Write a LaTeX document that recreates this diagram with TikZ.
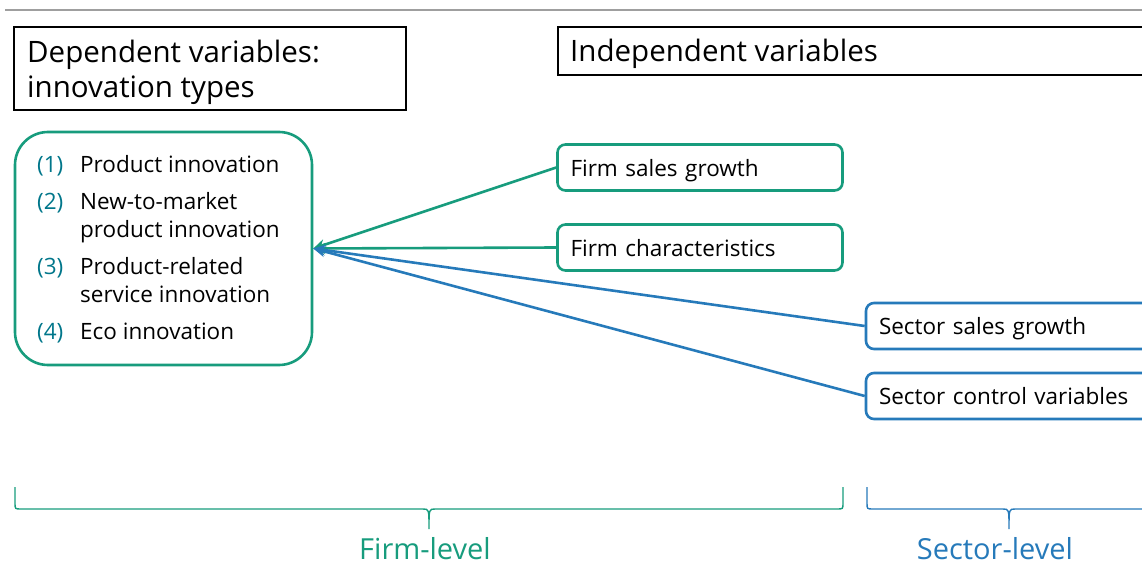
\documentclass[tikz,border=0pt]{standalone}
\usepackage{fontspec}
\setmainfont{Open Sans}
\usetikzlibrary{arrows.meta}
\definecolor{firmgreen}{RGB}{23,156,125}
\definecolor{sectblue}{RGB}{38,122,186}
\definecolor{numteal}{RGB}{0,118,138}
\newcommand{\boxfont}{\fontsize{22.5}{26}\selectfont}
\newcommand{\headfont}{\fontsize{29.5}{34}\selectfont}
\newcommand{\levelfont}{\fontsize{29}{33}\selectfont}
\begin{document}
\begin{tikzpicture}[x=1pt,y=-1pt,
		smallbox/.style={line width=2.6pt, rounded corners=8pt, minimum height=46pt, inner xsep=13pt, text height=17pt, text depth=0pt, align=left, font=\boxfont},
		firmbox/.style={smallbox, draw=firmgreen, text width=259pt},
		sectbox/.style={smallbox, draw=sectblue, text width=270pt},
		headbox/.style={draw=black, line width=1.3pt, inner sep=0pt},
		txt/.style={anchor=base west, inner sep=0pt, font=\boxfont},
		num/.style={txt, text=numteal},
		link/.style={line width=2.6pt, -{Stealth[length=12pt,width=11pt]}}]
	\useasboundingbox (0,0) rectangle (1142,564);
	\clip (0,0) rectangle (1142,564);
	% rule at the top
	\draw[gray!75, line width=2pt] (5,10) -- (1150,10);
	% headings
	\node[headbox, minimum width=392pt, minimum height=83pt] (dephead) at (210,68.5) {};
	\node[anchor=base west, inner sep=0pt, font=\headfont] (dephead1) at (27,63) {Dependent variables:};
	\node[anchor=base west, inner sep=0pt, font=\headfont] (dephead2) at (27,98) {innovation types};
	\node[headbox, minimum width=620pt, minimum height=48pt] (indhead) at (868,51) {};
	\node[anchor=base west, inner sep=0pt, font=\headfont] (indhead1) at (570,62) {Independent variables};
	% innovation types
	\node[draw=firmgreen, line width=2.6pt, rounded corners=33pt, minimum width=297pt, minimum height=233pt] (dep) at (163.5,248.5) {};
	\node[num] (n1) at (37,172) {(1)};
	\node[txt] (t1) at (80,172) {Product innovation};
	\node[num] (n2) at (37,209) {(2)};
	\node[txt] (t2) at (80,209) {New-to-market};
	\node[txt] (t2b) at (80,237) {product innovation};
	\node[num] (n3) at (37,274) {(3)};
	\node[txt] (t3) at (80,274) {Product-related};
	\node[txt] (t3b) at (80,302) {service innovation};
	\node[num] (n4) at (37,339) {(4)};
	\node[txt] (t4) at (80,339) {Eco innovation};
	% independent variables
	\node[firmbox] (firmsales) at (700,167.5) {Firm sales growth};
	\node[firmbox] (firmchar) at (700,247.5) {Firm characteristics};
	\node[sectbox] (sectsales) at (1014,326) {Sector sales growth};
	\node[sectbox] (sectctrl) at (1014,396) {Sector control variables};
	\draw[link, firmgreen] (firmsales.west) -- (dep.east);
	\draw[link, firmgreen] (firmchar.west) -- (dep.east);
	\draw[link, sectblue] (sectsales.west) -- (dep.east);
	\draw[link, sectblue] (sectctrl.west) -- (dep.east);
	% braces
	\draw[firmgreen, line width=1.4pt] (15,487) -- (15,503) .. controls (15,509) .. (21,509) -- (423,509) .. controls (429,509) .. (429,529) .. controls (429,509) .. (435,509) -- (837,509) .. controls (843,509) .. (843,503) -- (843,487);
	\draw[sectblue, line width=1.4pt] (867,487) -- (867,503) .. controls (867,509) .. (873,509) -- (1003,509) .. controls (1009,509) .. (1009,529) .. controls (1009,509) .. (1015,509) -- (1145,509) .. controls (1151,509) .. (1151,503) -- (1151,487);
	\node[font=\levelfont, text=firmgreen, anchor=base, inner sep=0pt] (firmlevel) at (425,559) {Firm-level};
	\node[font=\levelfont, text=sectblue, anchor=base, inner sep=0pt] (sectlevel) at (995,559) {Sector-level};
\end{tikzpicture}
\end{document}
